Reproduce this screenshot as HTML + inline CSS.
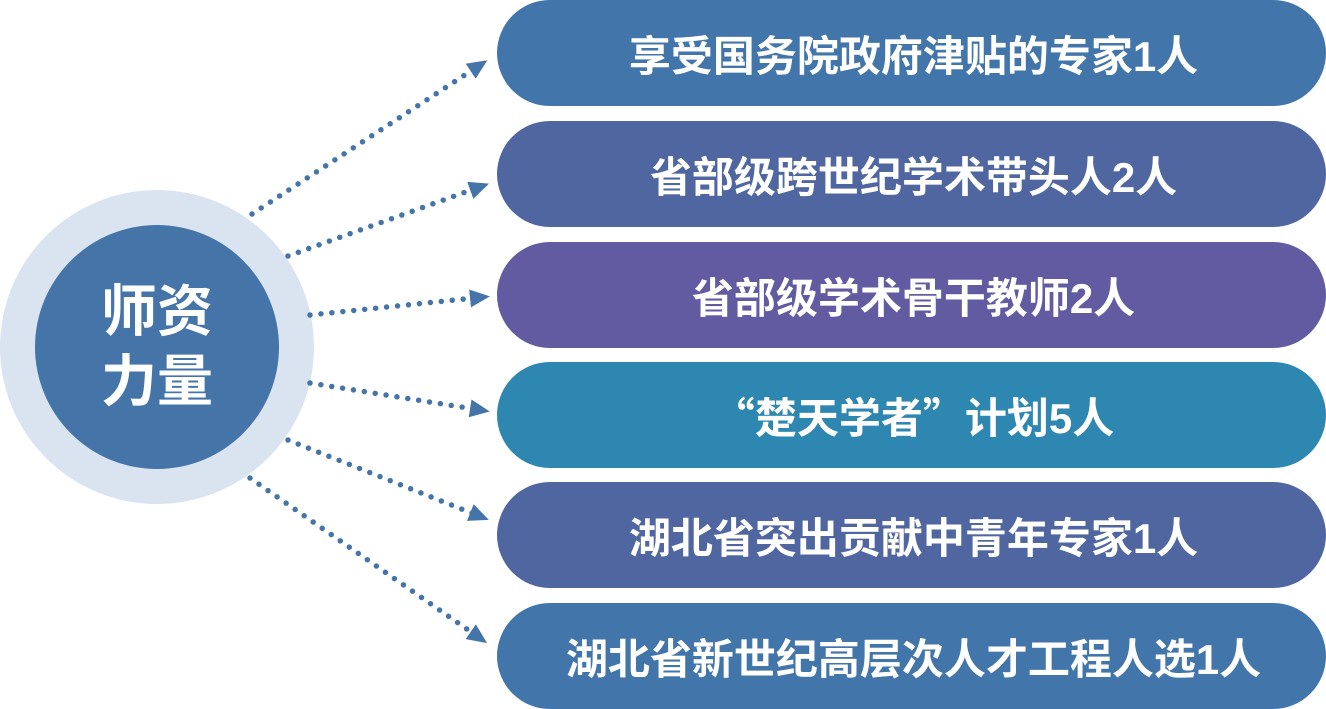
<!DOCTYPE html>
<html><head><meta charset="utf-8"><style>
html,body{margin:0;padding:0;background:#fff;width:1326px;height:709px;overflow:hidden}
.p{position:absolute;left:497px;width:829px;height:106px;border-radius:53px;color:#fff;font:bold 42px "Liberation Sans","Noto Sans CJK SC",sans-serif;display:flex;align-items:center;justify-content:center;padding-left:4px;box-sizing:border-box}
.q{font-family:"Noto Sans CJK SC",sans-serif}
.c{position:absolute;left:0;top:190px;width:314px;height:314px;border-radius:50%;background:#d9e4f0}
.ci{position:absolute;left:35px;top:225px;width:244px;height:244px;border-radius:50%;background:#4474a8;color:#fff;font:bold 56px/1.25 "Liberation Sans","Noto Sans CJK SC",sans-serif;display:flex;align-items:center;justify-content:center;text-align:center}
svg{position:absolute;left:0;top:0}
</style></head><body>
<div class="c"></div>
<div class="ci">师资<br>力量</div>
<svg width="1326" height="709">
<defs><marker id="a" markerWidth="20" markerHeight="18" refX="4" refY="9" orient="auto" markerUnits="userSpaceOnUse"><path d="M0,0 L20,9 L0,18 Z" fill="#4474a8"/></marker></defs>
<g stroke="#4474a8" stroke-width="5.5" stroke-linecap="round" stroke-dasharray="0 11" fill="none">
<line x1="252" y1="214" x2="474" y2="69" marker-end="url(#a)"/>
<line x1="288" y1="256" x2="474" y2="189" marker-end="url(#a)"/>
<line x1="310" y1="315" x2="474" y2="298" marker-end="url(#a)"/>
<line x1="310" y1="383" x2="474" y2="409" marker-end="url(#a)"/>
<line x1="288" y1="440" x2="474" y2="514" marker-end="url(#a)"/>
<line x1="250" y1="478" x2="474" y2="634" marker-end="url(#a)"/>
</g>
</svg>
<div class="p" style="top:0;background:#4275a9">享受国务院政府津贴的专家1人</div>
<div class="p" style="top:121px;background:#5066a0">省部级跨世纪学术带头人2人</div>
<div class="p" style="top:242px;background:#625ba1">省部级学术骨干教师2人</div>
<div class="p" style="top:362px;background:#2d87b0"><span class="q">“</span>楚天学者<span class="q">”</span>计划5人</div>
<div class="p" style="top:482px;background:#5066a0">湖北省突出贡献中青年专家1人</div>
<div class="p" style="top:603px;background:#4275a9">湖北省新世纪高层次人才工程人选1人</div>
</body></html>
